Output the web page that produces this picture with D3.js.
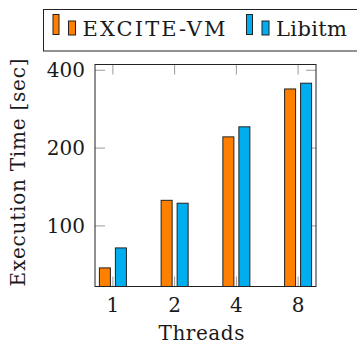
<!DOCTYPE html>
<html>
<head>
  <meta charset="UTF-8">
  <script src="https://d3js.org/d3.v7.min.js"></script>
  <style>
    body { margin: 0; background: #fff; }
  </style>
</head>
<body>
  <div id="chart"></div>
  <script>
    const threads = ["1", "2", "4", "8"];
    const seriesNames = ["EXCITE-VM", "Libitm"];
    const exciteVM = [68.8, 125.6, 221, 338.6];
    const libitm = [82.2, 122.4, 241.7, 356.4];
    const yTicks = [100, 200, 400];
    const colors = ["#ff8000", "#00aeef"];
    const FONT = "'DejaVu Serif', 'Liberation Serif', serif";

    const margin = {top: 64.5, right: 41, bottom: 58.5, left: 95},
          width = 357 - margin.left - margin.right,
          height = 345 - margin.top - margin.bottom;

    const root = d3.select("#chart").append("svg")
      .attr("width", 357).attr("height", 345)
      .style("font-family", FONT);
    const svg = root.append("g")
      .attr("transform", `translate(${margin.left},${margin.top})`);

    const x = d3.scalePoint().domain(threads).range([0, width]).padding(0.29);
    const y = d3.scaleLog().base(2).domain([58.3, 421]).range([height, 0]);

    const tickLen = 10;
    const tickColor = "#9a9a9a";

    // ticks (behind the bars)
    const ticks = svg.append("g").attr("stroke", tickColor).attr("stroke-width", 1);
    threads.forEach(t => {
      ticks.append("line").attr("x1", x(t)).attr("x2", x(t)).attr("y1", 0).attr("y2", tickLen);
      ticks.append("line").attr("x1", x(t)).attr("x2", x(t)).attr("y1", height).attr("y2", height - tickLen);
    });
    yTicks.forEach(v => {
      ticks.append("line").attr("x1", 0).attr("x2", tickLen).attr("y1", y(v)).attr("y2", y(v));
      ticks.append("line").attr("x1", width).attr("x2", width - tickLen).attr("y1", y(v)).attr("y2", y(v));
    });

    const barW = 11, offset = 8;
    [exciteVM, libitm].forEach((vals, i) => {
      svg.append("g").selectAll("rect")
        .data(vals)
        .enter().append("rect")
        .attr("x", (d, j) => x(threads[j]) + (i === 0 ? -offset : offset) - barW / 2)
        .attr("y", d => y(d))
        .attr("width", barW)
        .attr("height", d => height - y(d))
        .attr("fill", colors[i])
        .attr("stroke", "#222")
        .attr("stroke-width", 1);
    });

    // frame
    svg.append("rect")
      .attr("width", width).attr("height", height)
      .attr("fill", "none").attr("stroke", "#222").attr("stroke-width", 1);

    const txt = (sel) => sel.style("font-family", FONT).style("fill", "#1a1a1a");

    // tick labels
    svg.append("g").selectAll("text")
      .data(threads).enter().append("text")
      .call(txt)
      .attr("x", d => x(d)).attr("y", height + 25)
      .attr("text-anchor", "middle")
      .style("font-size", "20px")
      .text(d => d);

    svg.append("g").selectAll("text")
      .data(yTicks).enter().append("text")
      .call(txt)
      .attr("x", -10).attr("y", d => y(d)).attr("dy", "0.35em")
      .attr("text-anchor", "end")
      .style("font-size", "20px")
      .text(d => d);

    svg.append("text")
      .call(txt)
      .attr("x", width / 2 - 4).attr("y", height + 53)
      .attr("text-anchor", "middle")
      .attr("textLength", 86).attr("lengthAdjust", "spacing")
      .style("font-size", "20px")
      .text("Threads");

    svg.append("text")
      .call(txt)
      .attr("transform", `translate(${25 - margin.left},${height / 2 - 3}) rotate(-90)`)
      .attr("text-anchor", "middle")
      .attr("textLength", 228).attr("lengthAdjust", "spacing")
      .style("font-size", "20px")
      .text("Execution Time [sec]");

    // legend
    const leg = root.append("g");
    leg.append("rect")
      .attr("x", 43.5).attr("y", 9.5).attr("width", 330).attr("height", 41.5)
      .attr("fill", "#fff").attr("stroke", "#222").attr("stroke-width", 1);
    const legX = [52.5, 246];
    const legW = [143, 71];
    seriesNames.forEach((name, i) => {
      const g = leg.append("g").attr("transform", `translate(${legX[i]},0)`);
      g.append("rect").attr("x", 0.5).attr("y", 14.5).attr("width", 6).attr("height", 20)
        .attr("fill", colors[i]).attr("stroke", "#222");
      g.append("rect").attr("x", 16).attr("y", 21).attr("width", 7).attr("height", 14)
        .attr("fill", colors[i]).attr("stroke", "#222");
      g.append("text").call(txt).attr("x", 30).attr("y", 35.5)
        .attr("textLength", legW[i]).attr("lengthAdjust", "spacing")
        .style("font-size", "21px")
        .text(name);
    });
  </script>
</body>
</html>
